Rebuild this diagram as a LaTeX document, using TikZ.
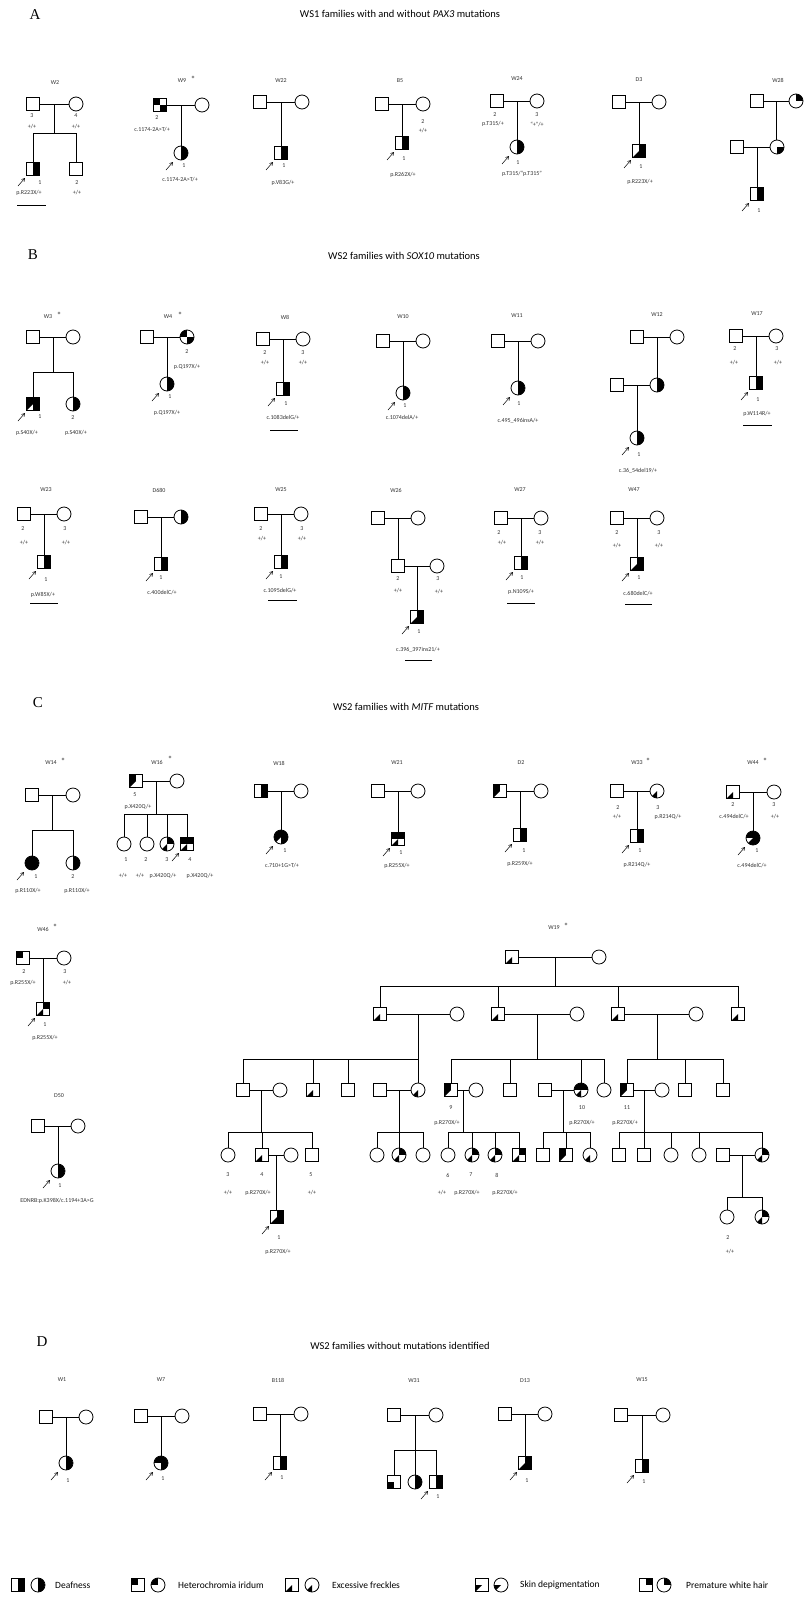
\documentclass[tikz,border=0pt]{standalone}
\usepackage{fontspec}
\setmainfont{Carlito}
\newfontfamily\secfont{Liberation Serif}
\usetikzlibrary{calc,arrows.meta}
\tikzset{
 sq/.style={draw, rectangle, minimum size=13pt, inner sep=0pt, line width=0.8pt, fill=white},
 ci/.style={draw, circle, minimum size=14pt, inner sep=0pt, line width=0.8pt, fill=white},
 ln/.style={line width=0.8pt},
 lbl/.style={font=\fontsize{6}{7}\selectfont, text=black!80, inner sep=0pt},
 ast/.style={font=\fontsize{9}{9}\selectfont, text=black!80, inner sep=0pt},
 ttl/.style={font=\fontsize{10.5}{12}\selectfont, inner sep=0pt},
 sec/.style={font=\secfont\fontsize{15}{17}\selectfont, inner sep=0pt},
 leg/.style={font=\fontsize{9.5}{11}\selectfont, inner sep=0pt, anchor=west},
 parr/.style={-{Straight Barb[length=3pt,width=3.5pt]}, line width=0.5pt},
}
\def\qR{\fill (0,-1) rectangle (1,1);}
\def\qL{\fill (-1,-1) rectangle (0,1);}
\def\qTL{\fill (-1,0) rectangle (0,1);}
\def\qTR{\fill (0,0) rectangle (1,1);}
\def\qBL{\fill (-1,-1) rectangle (0,0);}
\def\qBR{\fill (0,-1) rectangle (1,0);}
\def\qA{\fill (-1,-1) -- (0,-1) -- (0,0) -- cycle;}
\def\qB{\fill (-1,-1) -- (-1,0) -- (0,0) -- cycle;}
\newcommand\Sq[3]{\node[sq] (#1) at (#2) {};\begin{scope}[shift={(#1.center)},x=6.5pt,y=6.5pt]\clip (-1,-1) rectangle (1,1);#3\end{scope}}
\newcommand\Ci[3]{\node[ci] (#1) at (#2) {};\begin{scope}[shift={(#1.center)},x=7pt,y=7pt]\clip (0,0) circle (1);#3\end{scope}}
\newcommand\Cp[3]{\draw[ln] (#1) -- (#2); \coordinate (#3) at ($(#1)!0.5!(#2)$);}
\newcommand\One[2]{\draw[ln] (#1) -- (#1 |- #2.north);}
\newcommand\Sib[5]{\coordinate (sby) at (0,#2);
 \draw[ln] (#1) -- (#1 |- sby);
 \draw[ln] (#3.north |- sby) -- (#4.north |- sby);
 \foreach \ch in {#5}{\draw[ln] (\ch.north |- sby) -- (\ch.north);}}
\newcommand\Pb[1]{\draw[parr] ($(#1.center)+(-15,17)$) -- ($(#1.center)+(-8,9)$);}
\newcommand\Lb[3]{\node[lbl] (#1) at (#2) {#3};}
\newcommand\Ul[3]{\draw[ln] (#1,#3) -- (#2,#3);}
\begin{document}
\begin{tikzpicture}[x=1pt,y=-1pt]
\fill[white] (0,0) rectangle (804,1598);
\useasboundingbox (0,0) rectangle (804,1598);
% ================= A
\node[sec] (secA) at (35,15) {A};
\node[ttl] (ttlA) at (400,14) {WS1 families with and without \textit{PAX3} mutations};
% W2
\Lb{w2}{55,83}{W2}
\Sq{w2f}{33,104}{} \Ci{w2m}{76,104}{} \Cp{w2f}{w2m}{w2c}
\Sq{w2a}{33,169}{\qR} \Sq{w2b}{76,169}{}
\Sib{w2c}{133}{w2a}{w2b}{w2a,w2b} \Pb{w2a}
\Lb{w2l1}{32,116}{3} \Lb{w2l2}{32,127}{+/+} \Lb{w2l3}{76,116}{4} \Lb{w2l4}{76,127}{+/+}
\Lb{w2l5}{40,183}{1} \Lb{w2l6}{29,193}{p.R223X/+} \Lb{w2l7}{77,183}{2} \Lb{w2l8}{77,193}{+/+}
\Ul{17}{46}{205}
% W9
\Lb{w9}{182,81}{W9} \node[ast] (w9s) at (193,79) {*};
\Sq{w9f}{160,105}{\qTL\qBR} \Ci{w9m}{202,105}{} \Cp{w9f}{w9m}{w9c}
\Ci{w9a}{181,153}{\qR} \One{w9c}{w9a} \Pb{w9a}
\Lb{w9l1}{157,118}{2} \Lb{w9l2}{152,130}{c.1174-2A>T/+} \Lb{w9l3}{184,166}{1} \Lb{w9l4}{180,180}{c.1174-2A>T/+}
% W22
\Lb{w22}{281,81}{W22}
\Sq{w22f}{260,102}{} \Ci{w22m}{302,102}{} \Cp{w22f}{w22m}{w22c}
\Sq{w22a}{281,153}{\qR} \One{w22c}{w22a} \Pb{w22a}
\Lb{w22l1}{284,166}{1} \Lb{w22l2}{283,183}{p.V83G/+}
% B5
\Lb{b5}{400,81}{B5}
\Sq{b5f}{382,104}{} \Ci{b5m}{423,104}{} \Cp{b5f}{b5m}{b5c}
\Sq{b5a}{402,143}{\qR} \One{b5c}{b5a} \Pb{b5a}
\Lb{b5l1}{404,159}{1} \Lb{b5l2}{403,175}{p.R262X/+} \Lb{b5l3}{423,122}{2} \Lb{b5l4}{423,131}{+/+}
% W24
\Lb{w24}{517,79}{W24}
\Sq{w24f}{497,101}{} \Ci{w24m}{537,101}{} \Cp{w24f}{w24m}{w24c}
\Ci{w24a}{517,147}{\qR} \One{w24c}{w24a} \Pb{w24a}
\Lb{w24l1}{495,115}{2} \Lb{w24l2}{493,124}{p.T315/+} \Lb{w24l3}{537,115}{3} \Lb{w24l4}{537,124}{“+”/+}
\Lb{w24l5}{518,163}{1} \Lb{w24l6}{522,174}{p.T315/“p.T315”}
% D3
\Lb{d3}{639,80}{D3}
\Sq{d3f}{619,102}{} \Ci{d3m}{659,102}{} \Cp{d3f}{d3m}{d3c}
\Sq{d3a}{639,151}{\qR\qA} \One{d3c}{d3a} \Pb{d3a}
\Lb{d3l1}{641,167}{1} \Lb{d3l2}{640,182}{p.R223X/+}
% W28
\Lb{w28}{778,80}{W28}
\Sq{w28f}{757,101}{} \Ci{w28m}{796,101}{\qTR} \Cp{w28f}{w28m}{w28c}
\Ci{w28b}{777,147}{\qBR} \Sq{w28s}{737,147}{} \One{w28c}{w28b} \Cp{w28s}{w28b}{w28d}
\Sq{w28a}{757,194}{\qR} \One{w28d}{w28a} \Pb{w28a}
\Lb{w28l1}{759,211}{1}
% ================= B
\node[sec] (secB) at (33,255) {B};
\node[ttl] (ttlB) at (404,256) {WS2 families with \textit{SOX10} mutations};
% W3
\Lb{w3}{48,317}{W3} \node[ast] (w3s) at (59,315) {*};
\Sq{w3f}{33,337}{} \Ci{w3m}{73,337}{} \Cp{w3f}{w3m}{w3c}
\Sq{w3a}{33,404}{\qR\qTL\qB} \Ci{w3b}{73,404}{\qR}
\Sib{w3c}{372}{w3a}{w3b}{w3a,w3b} \Pb{w3a}
\Lb{w3l1}{40,417}{1} \Lb{w3l2}{27,433}{p.S40X/+} \Lb{w3l3}{73,418}{2} \Lb{w3l4}{76,433}{p.S40X/+}
% W4
\Lb{w4}{168,317}{W4} \node[ast] (w4s) at (180,315) {*};
\Sq{w4f}{147,337}{} \Ci{w4m}{187,337}{\qTL\qBR} \Cp{w4f}{w4m}{w4c}
\Ci{w4a}{167,384}{\qR} \One{w4c}{w4a} \Pb{w4a}
\Lb{w4l1}{187,352}{2} \Lb{w4l2}{187,367}{p.Q197X/+} \Lb{w4l3}{170,397}{1} \Lb{w4l4}{167,413}{p.Q197X/+}
% W8
\Lb{w8}{285,317}{W8}
\Sq{w8f}{263,339}{} \Ci{w8m}{303,339}{} \Cp{w8f}{w8m}{w8c}
\Sq{w8a}{283,389}{\qR} \One{w8c}{w8a} \Pb{w8a}
\Lb{w8l1}{265,353}{2} \Lb{w8l2}{265,363}{+/+} \Lb{w8l3}{303,353}{3} \Lb{w8l4}{303,363}{+/+}
\Lb{w8l5}{286,404}{1} \Lb{w8l6}{283,418}{c.1083delG/+} \Ul{270}{298}{430}
% W10
\Lb{w10}{403,317}{W10}
\Sq{w10f}{383,341}{} \Ci{w10m}{423,341}{} \Cp{w10f}{w10m}{w10c}
\Ci{w10a}{403,393}{\qR} \One{w10c}{w10a} \Pb{w10a}
\Lb{w10l1}{405,406}{1} \Lb{w10l2}{402,418}{c.1074delA/+}
% W11
\Lb{w11}{517,316}{W11}
\Sq{w11f}{498,341}{} \Ci{w11m}{538,341}{} \Cp{w11f}{w11m}{w11c}
\Ci{w11a}{518,388}{\qR} \One{w11c}{w11a} \Pb{w11a}
\Lb{w11l1}{519,404}{1} \Lb{w11l2}{518,421}{c.495\_496insA/+}
% W12
\Lb{w12}{657,315}{W12}
\Sq{w12f}{637,337}{} \Ci{w12m}{677,337}{} \Cp{w12f}{w12m}{w12c}
\Ci{w12b}{657,385}{\qR} \Sq{w12s}{617,385}{} \One{w12c}{w12b} \Cp{w12s}{w12b}{w12d}
\Ci{w12a}{637,438}{\qR} \One{w12d}{w12a} \Pb{w12a}
\Lb{w12l1}{639,455}{1} \Lb{w12l2}{638,471}{c.36\_54del19/+}
% W17
\Lb{w17}{757,314}{W17}
\Sq{w17f}{736,336}{} \Ci{w17m}{776,336}{} \Cp{w17f}{w17m}{w17c}
\Sq{w17a}{756,383}{\qR} \One{w17c}{w17a} \Pb{w17a}
\Lb{w17l1}{735,349}{2} \Lb{w17l2}{734,363}{+/+} \Lb{w17l3}{777,349}{3} \Lb{w17l4}{778,363}{+/+}
\Lb{w17l5}{758,400}{1} \Lb{w17l6}{757,414}{p.W114R/+} \Ul{743}{772}{425}
% W23
\Lb{w23}{46,490}{W23}
\Sq{w23f}{24,514}{} \Ci{w23m}{64,514}{} \Cp{w23f}{w23m}{w23c}
\Sq{w23a}{44,562}{\qR} \One{w23c}{w23a} \Pb{w23a}
\Lb{w23l1}{23,529}{2} \Lb{w23l2}{24,543}{+/+} \Lb{w23l3}{65,529}{3} \Lb{w23l4}{66,543}{+/+}
\Lb{w23l5}{46,580}{1} \Lb{w23l6}{43,595}{p.W85X/+} \Ul{30}{58}{603}
% D680
\Lb{d680}{159,490}{D680}
\Sq{d680f}{141,517}{} \Ci{d680m}{181,517}{\qR} \Cp{d680f}{d680m}{d680c}
\Sq{d680a}{161,564}{\qR} \One{d680c}{d680a} \Pb{d680a}
\Lb{d680l1}{161,578}{1} \Lb{d680l2}{162,593}{c.400delC/+}
% W25
\Lb{w25}{281,490}{W25}
\Sq{w25f}{261,514}{} \Ci{w25m}{301,514}{} \Cp{w25f}{w25m}{w25c}
\Sq{w25a}{281,562}{\qR} \One{w25c}{w25a} \Pb{w25a}
\Lb{w25l1}{261,529}{2} \Lb{w25l2}{262,539}{+/+} \Lb{w25l3}{302,529}{3} \Lb{w25l4}{302,539}{+/+}
\Lb{w25l5}{281,577}{1} \Lb{w25l6}{280,591}{c.1095delG/+} \Ul{268}{297}{600}
% W26
\Lb{w26}{396,490}{W26}
\Sq{w26f}{378,518}{} \Ci{w26m}{418,518}{} \Cp{w26f}{w26m}{w26c}
\Sq{w26b}{398,566}{} \Ci{w26s}{437,566}{} \One{w26c}{w26b} \Cp{w26b}{w26s}{w26d}
\Sq{w26a}{417,617}{\qR\qA} \One{w26d}{w26a} \Pb{w26a}
\Lb{w26l1}{398,579}{2} \Lb{w26l2}{398,591}{+/+} \Lb{w26l3}{438,579}{3} \Lb{w26l4}{439,592}{+/+}
\Lb{w26l5}{419,632}{1} \Lb{w26l6}{418,650}{c.396\_397ins21/+} \Ul{405}{432}{660}
% W27
\Lb{w27}{520,490}{W27}
\Sq{w27f}{501,518}{} \Ci{w27m}{541,518}{} \Cp{w27f}{w27m}{w27c}
\Sq{w27a}{521,563}{\qR} \One{w27c}{w27a} \Pb{w27a}
\Lb{w27l1}{499,533}{2} \Lb{w27l2}{502,543}{+/+} \Lb{w27l3}{540,533}{3} \Lb{w27l4}{540,543}{+/+}
\Lb{w27l5}{522,578}{1} \Lb{w27l6}{521,592}{p.N109S/+} \Ul{507}{535}{603}
% W47
\Lb{w47}{634,490}{W47}
\Sq{w47f}{617,518}{} \Ci{w47m}{657,518}{} \Cp{w47f}{w47m}{w47c}
\Sq{w47a}{637,564}{\qR\qA} \One{w47c}{w47a} \Pb{w47a}
\Lb{w47l1}{617,533}{2} \Lb{w47l2}{617,546}{+/+} \Lb{w47l3}{659,533}{3} \Lb{w47l4}{659,546}{+/+}
\Lb{w47l5}{639,578}{1} \Lb{w47l6}{638,594}{c.680delC/+} \Ul{625}{652}{604}
% ================= C
\node[sec] (secC) at (38,703) {C};
\node[ttl] (ttlC) at (406,707) {WS2 families with \textit{MITF} mutations};
% W14
\Lb{w14}{51,763}{W14} \node[ast] (w14s) at (63,761) {*};
\Sq{w14f}{32,795}{} \Ci{w14m}{73,795}{} \Cp{w14f}{w14m}{w14c}
\Ci{w14a}{32,863}{\qL\qR} \Ci{w14b}{73,863}{\qR}
\Sib{w14c}{830}{w14a}{w14b}{w14a,w14b} \Pb{w14a}
\Lb{w14l1}{36,877}{1} \Lb{w14l2}{28,891}{p.R110X/+} \Lb{w14l3}{73,877}{2} \Lb{w14l4}{77,891}{p.R110X/+}
% W16
\Lb{w16}{157,762}{W16} \node[ast] (w16s) at (170,759) {*};
\Sq{w16f}{136,781}{\qTL\qB} \Ci{w16m}{177,781}{} \Cp{w16f}{w16m}{w16c}
\Ci{w16a}{124,844}{} \Ci{w16b}{147,844}{} \Ci{w16e}{167,844}{\qTR\qA} \Sq{w16d}{187,844}{\qTL\qTR\qA}
\Sib{w16c}{814}{w16a}{w16d}{w16a,w16b,w16e,w16d} \Pb{w16d}
\Lb{w16l1}{135,795}{5} \Lb{w16l2}{138,807}{p.X420Q/+}
\Lb{w16l3}{126,860}{1} \Lb{w16l4}{146,860}{2} \Lb{w16l5}{167,860}{3} \Lb{w16l6}{190,860}{4}
\Lb{w16l7}{123,876}{+/+} \Lb{w16l8}{140,876}{+/+} \Lb{w16l9}{163,876}{p.X420Q/+} \Lb{w16l10}{200,876}{p.X420Q/+}
% W18
\Lb{w18}{279,763}{W18}
\Sq{w18f}{261,791}{\qR} \Ci{w18m}{301,791}{} \Cp{w18f}{w18m}{w18c}
\Ci{w18a}{281,837}{\qTL\qTR\qBR\qB} \One{w18c}{w18a} \Pb{w18a}
\Lb{w18l1}{285,851}{1} \Lb{w18l2}{282,866}{c.710+1G>T/+}
% W21
\Lb{w21}{397,763}{W21}
\Sq{w21f}{378,791}{} \Ci{w21m}{418,791}{} \Cp{w21f}{w21m}{w21c}
\Sq{w21a}{398,839}{\qTL\qTR\qA} \One{w21c}{w21a} \Pb{w21a}
\Lb{w21l1}{401,853}{1} \Lb{w21l2}{397,866}{p.R255X/+}
% D2
\Lb{d2}{521,763}{D2}
\Sq{d2f}{500,791}{\qTL\qB} \Ci{d2m}{541,791}{} \Cp{d2f}{d2m}{d2c}
\Sq{d2a}{520,835}{\qR} \One{d2c}{d2a} \Pb{d2a}
\Lb{d2l1}{524,851}{1} \Lb{d2l2}{520,864}{p.R259X/+}
% W33
\Lb{w33}{637,763}{W33} \node[ast] (w33s) at (648,761) {*};
\Sq{w33f}{617,791}{} \Ci{w33m}{657,791}{\qA} \Cp{w33f}{w33m}{w33c}
\Sq{w33a}{637,836}{\qR} \One{w33c}{w33a} \Pb{w33a}
\Lb{w33l1}{618,808}{2} \Lb{w33l2}{617,817}{+/+} \Lb{w33l3}{658,808}{3} \Lb{w33l4}{668,817}{p.R214Q/+}
\Lb{w33l5}{640,851}{1} \Lb{w33l6}{637,865}{p.R214Q/+}
% W44
\Lb{w44}{753,763}{W44} \node[ast] (w44s) at (765,761) {*};
\Sq{w44f}{733,792}{\qA} \Ci{w44m}{774,792}{} \Cp{w44f}{w44m}{w44c}
\Ci{w44a}{753,838}{\qR\qTL\qA} \One{w44c}{w44a} \Pb{w44a}
\Lb{w44l1}{733,805}{2} \Lb{w44l2}{734,817}{c.494delC/+} \Lb{w44l3}{774,805}{3} \Lb{w44l4}{775,817}{+/+}
\Lb{w44l5}{757,851}{1} \Lb{w44l6}{752,866}{c.494delC/+}
% W46
\Lb{w46}{43,929}{W46} \node[ast] (w46s) at (55,927) {*};
\Sq{w46f}{23,958}{\qTL} \Ci{w46m}{64,958}{} \Cp{w46f}{w46m}{w46c}
\Sq{w46a}{43,1009}{\qTR\qA} \One{w46c}{w46a} \Pb{w46a}
\Lb{w46l1}{24,972}{2} \Lb{w46l2}{23,983}{p.R255X/+} \Lb{w46l3}{65,972}{3} \Lb{w46l4}{67,983}{+/+}
\Lb{w46l5}{45,1025}{1} \Lb{w46l6}{45,1038}{p.R255X/+}
% D50
\Lb{d50}{59,1096}{D50}
\Sq{d50f}{38,1126}{} \Ci{d50m}{78,1126}{} \Cp{d50f}{d50m}{d50c}
\Ci{d50a}{58,1171}{\qR} \One{d50c}{d50a} \Pb{d50a}
\Lb{d50l1}{60,1186}{1} \Lb{d50l2}{57,1201}{EDNRB:p.K398X/c.1194+3A>G}
% W19
\Lb{w19}{554,928}{W19} \node[ast] (w19s) at (566,926) {*};
\Sq{g1f}{512,957}{\qA} \Ci{g1m}{599,957}{} \Cp{g1f}{g1m}{g1c}
\Sq{h1}{380,1014}{\qA} \Sq{h2}{498,1014}{\qA} \Sq{h3}{618,1014}{\qA} \Sq{h4}{738,1014}{\qA}
\Sib{g1c}{986}{h1}{h4}{h1,h2,h3,h4}
\Ci{h1s}{457,1014}{} \Cp{h1}{h1s}{h1c}
\Ci{h2s}{577,1014}{} \Cp{h2}{h2s}{h2c}
\Ci{h3s}{696,1014}{} \Cp{h3}{h3s}{h3c}
% gen III
\Sq{i1}{243,1090}{} \Ci{i1s}{280,1090}{} \Cp{i1}{i1s}{i1c}
\Sq{i2}{313,1090}{\qA} \Sq{i3}{348,1090}{}
\Sq{i4s}{380,1090}{} \Ci{i4}{418,1090}{\qA} \Cp{i4s}{i4}{i4c}
\Sib{h1c}{1059}{i1}{i4}{i1,i2,i3,i4}
\Sq{i6}{451,1090}{\qTL\qB} \Ci{i6s}{476,1090}{} \Cp{i6}{i6s}{i6c}
\Sq{i7}{510,1090}{}
\Sq{i8s}{545,1090}{} \Ci{i8}{581,1090}{\qTL\qTR\qA} \Cp{i8s}{i8}{i8c}
\Ci{i9}{604,1090}{}
\Sib{h2c}{1059}{i6}{i9}{i6,i7,i8,i9}
\Sq{i11}{627,1090}{\qTL\qB} \Ci{i11s}{662,1090}{} \Cp{i11}{i11s}{i11c}
\Sq{i12}{685,1090}{} \Sq{i13}{723,1090}{}
\Sib{h3c}{1059}{i11}{i13}{i11,i12,i13}
\Lb{i6l1}{451,1108}{9} \Lb{i6l2}{447,1123}{p.R270X/+}
\Lb{i8l1}{582,1108}{10} \Lb{i8l2}{582,1123}{p.R270X/+}
\Lb{i11l1}{627,1108}{11} \Lb{i11l2}{625,1123}{p.R270X/+}
% gen IV
\Ci{j1}{228,1155}{} \Sq{j2}{262,1155}{\qA} \Ci{j2s}{291,1155}{} \Sq{j3}{312,1155}{}
\Sib{i1c}{1132}{j1}{j3}{j1,j2,j3} \Cp{j2}{j2s}{j2c}
\Sq{k1}{277,1217}{\qR\qA} \One{j2c}{k1} \Pb{k1}
\Lb{j1l1}{228,1175}{3} \Lb{j1l2}{228,1193}{+/+} \Lb{j2l1}{262,1175}{4} \Lb{j2l2}{258,1193}{p.R270X/+}
\Lb{j3l1}{311,1175}{5} \Lb{j3l2}{312,1193}{+/+}
\Lb{k1l1}{279,1238}{1} \Lb{k1l2}{278,1252}{p.R270X/+}
\Ci{j4}{377,1155}{} \Ci{j5}{399,1155}{\qTR\qA} \Ci{j6}{423,1155}{}
\Sib{i4c}{1132}{j4}{j6}{j4,j5,j6}
\Ci{j7}{448,1155}{} \Ci{j8}{472,1155}{\qTR\qA} \Ci{j9}{495,1155}{\qTR\qA} \Sq{j10}{519,1155}{\qTR\qA}
\Sib{i6c}{1132}{j7}{j10}{j7,j8,j9,j10}
\Lb{j7l1}{448,1175}{6} \Lb{j8l1}{471,1175}{7} \Lb{j9l1}{497,1175}{8}
\Lb{j7l2}{442,1193}{+/+} \Lb{j8l2}{467,1193}{p.R270X/+} \Lb{j9l2}{505,1193}{p.R270X/+}
\Sq{j11}{543,1155}{} \Sq{j12}{566,1155}{\qTL\qB} \Ci{j13}{590,1155}{\qA}
\Sib{i8c}{1132}{j11}{j13}{j11,j12,j13}
\Sq{j14}{619,1155}{} \Sq{j15}{644,1155}{} \Ci{j16}{671,1155}{} \Ci{j17}{699,1155}{} \Ci{j18}{762,1155}{\qTR\qA}
\Sib{i11c}{1132}{j14}{j18}{j14,j15,j16,j17,j18}
\Sq{j18s}{723,1155}{} \Cp{j18s}{j18}{j18c}
\Ci{k2}{727,1217}{} \Ci{k3}{762,1217}{\qTR\qA}
\Sib{j18c}{1197}{k2}{k3}{k2,k3}
\Lb{k2l1}{728,1238}{2} \Lb{k2l2}{730,1252}{+/+}
% ================= D
\node[sec] (secD) at (42,1342) {D};
\node[ttl] (ttlD) at (400,1346) {WS2 families without mutations identified};
% W1
\Lb{w1}{62,1380}{W1}
\Sq{w1f}{46,1417}{} \Ci{w1m}{86,1417}{} \Cp{w1f}{w1m}{w1c}
\Ci{w1a}{66,1463}{\qR} \One{w1c}{w1a} \Pb{w1a} \Lb{w1l1}{68,1481}{1}
% W7
\Lb{w7}{161,1380}{W7}
\Sq{w7f}{141,1416}{} \Ci{w7m}{182,1416}{} \Cp{w7f}{w7m}{w7c}
\Ci{w7a}{161,1463}{\qTL\qTR\qBR} \One{w7c}{w7a} \Pb{w7a} \Lb{w7l1}{163,1479}{1}
% B118
\Lb{b118}{278,1380}{B118}
\Sq{b118f}{260,1414}{} \Ci{b118m}{301,1414}{} \Cp{b118f}{b118m}{b118c}
\Sq{b118a}{280,1463}{\qR} \One{b118c}{b118a} \Pb{b118a} \Lb{b118l1}{282,1478}{1}
% W31
\Lb{w31}{414,1381}{W31}
\Sq{w31f}{394,1415}{} \Ci{w31m}{436,1415}{} \Cp{w31f}{w31m}{w31c}
\Sq{w31b}{394,1482}{\qBL} \Ci{w31e}{415,1482}{\qR} \Sq{w31a}{436,1482}{\qR}
\Sib{w31c}{1450}{w31b}{w31a}{w31b,w31e,w31a} \Pb{w31a} \Lb{w31l1}{438,1497}{1}
% D13
\Lb{d13}{525,1381}{D13}
\Sq{d13f}{505,1414}{} \Ci{d13m}{545,1414}{} \Cp{d13f}{d13m}{d13c}
\Sq{d13a}{525,1463}{\qR\qA} \One{d13c}{d13a} \Pb{d13a} \Lb{d13l1}{527,1481}{1}
% W15
\Lb{w15}{642,1380}{W15}
\Sq{w15f}{621,1415}{} \Ci{w15m}{663,1415}{} \Cp{w15f}{w15m}{w15c}
\Sq{w15a}{642,1466}{\qR} \One{w15c}{w15a} \Pb{w15a} \Lb{w15l1}{644,1482}{1}
% ================= Legend
\Sq{lg1s}{18,1585}{\qR} \Ci{lg1c}{38,1585}{\qR} \node[leg] (lg1t) at (55,1585) {Deafness};
\Sq{lg2s}{138,1585}{\qTL} \Ci{lg2c}{158,1585}{\qTL} \node[leg] (lg2t) at (178,1585) {Heterochromia iridum};
\Sq{lg3s}{292,1585}{\qA} \Ci{lg3c}{312,1585}{\qA} \node[leg] (lg3t) at (332,1585) {Excessive freckles};
\Sq{lg4s}{482,1585}{\qB} \Ci{lg4c}{501,1585}{\qB} \node[leg] (lg4t) at (520,1585) {Skin depigmentation};
\Sq{lg5s}{646,1585}{\qTR} \Ci{lg5c}{664,1585}{\qTR} \node[leg] (lg5t) at (686,1585) {Premature white hair};
\end{tikzpicture}
\end{document}
